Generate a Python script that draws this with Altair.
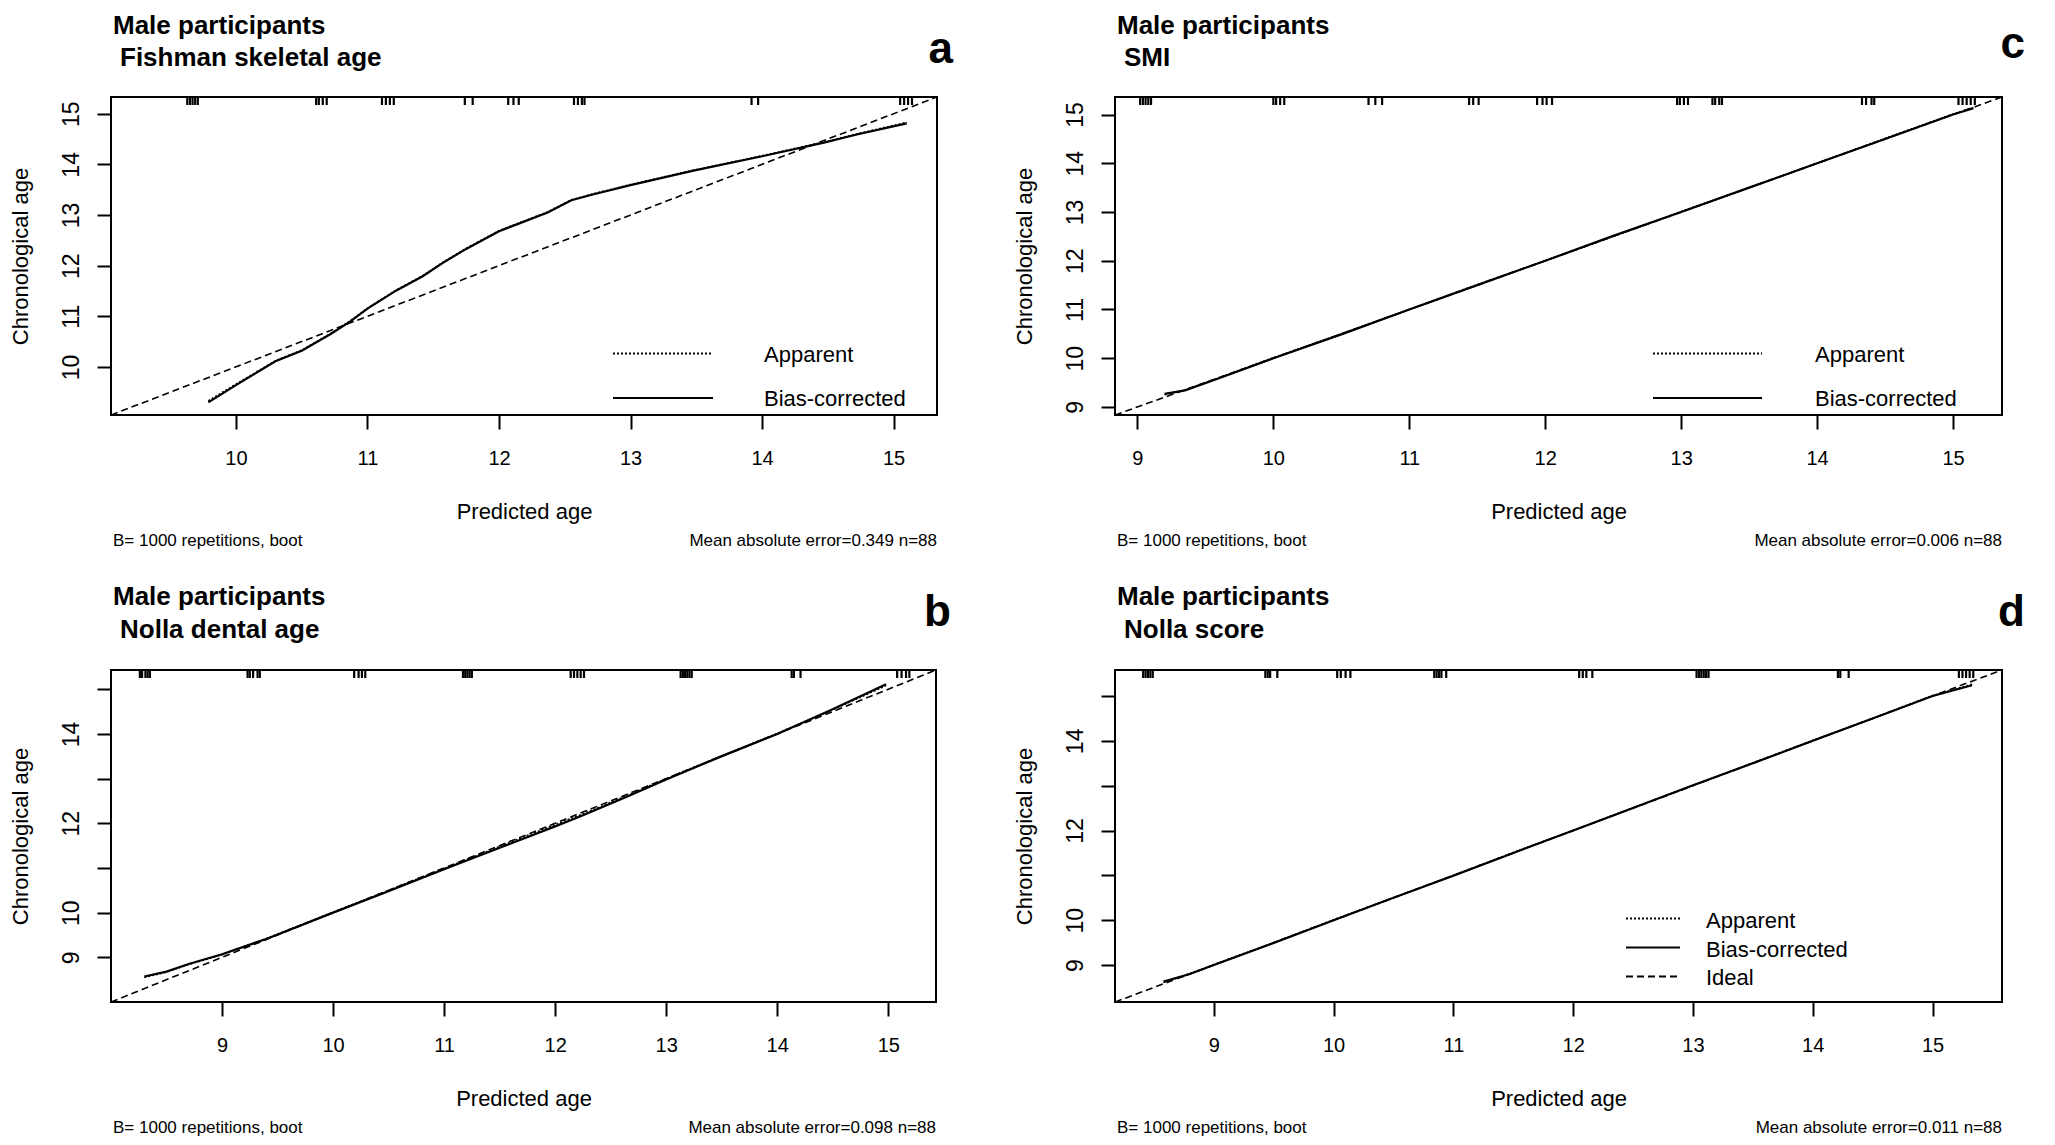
import altair as alt
import pandas as pd

FONT = "Liberation Sans"

# ---------------- panel a : Fishman skeletal age ----------------
a_x = [9.79, 10.0, 10.3, 10.5, 10.72, 10.87, 11.0, 11.22, 11.42, 11.57, 11.75,
       12.0, 12.12, 12.37, 12.55, 12.72, 13.0, 13.47, 14.0, 14.47, 14.72, 15.1]
a_bias = [9.30, 9.64, 10.11, 10.32, 10.65, 10.90, 11.15, 11.51, 11.79, 12.05, 12.33,
          12.68, 12.80, 13.05, 13.29, 13.41, 13.59, 13.87, 14.16, 14.43, 14.59, 14.81]
a_app = [9.33, 9.66, 10.12, 10.33, 10.66, 10.91, 11.16, 11.52, 11.80, 12.06, 12.34,
         12.69, 12.81, 13.06, 13.30, 13.42, 13.60, 13.88, 14.17, 14.44, 14.60, 14.83]
a_rug = [9.63, 9.65, 9.67, 9.69, 9.71, 10.61, 10.63, 10.66, 10.69, 11.11, 11.14, 11.17,
         11.20, 11.74, 11.80, 12.07, 12.11, 12.15, 12.57, 12.60, 12.63, 12.65, 13.92,
         13.97, 15.05, 15.08, 15.11, 15.14]
a_range = [9.05, 15.33]

# ---------------- panel b : Nolla dental age ----------------
b_x = [8.30, 8.50, 8.70, 9.0, 9.41, 10.0, 10.47, 11.0, 11.53, 12.0, 12.24, 12.65,
       13.0, 13.48, 14.0, 14.48, 14.98]
b_bias = [8.57, 8.68, 8.85, 9.07, 9.42, 10.0, 10.45, 10.97, 11.48, 11.93, 12.17, 12.60,
          12.98, 13.48, 14.0, 14.53, 15.11]
b_app = [8.55, 8.67, 8.84, 9.06, 9.43, 10.01, 10.47, 10.99, 11.51, 11.97, 12.20, 12.62,
         13.0, 13.49, 14.01, 14.52, 15.08]
b_rug = [8.26, 8.28, 8.31, 8.33, 8.35, 9.23, 9.25, 9.28, 9.32, 9.34, 10.19, 10.23,
         10.26, 10.29, 11.17, 11.19, 11.21, 11.23, 11.25, 12.14, 12.17, 12.20, 12.23,
         12.26, 13.13, 13.15, 13.17, 13.19, 13.21, 13.23, 14.13, 14.15, 14.21, 15.08,
         15.12, 15.16, 15.19]
b_range = [8.0, 15.43]

# ---------------- panel c : SMI ----------------
c_x = [9.20, 9.35, 9.6, 10.0, 10.5, 11.0, 11.5, 12.0, 12.5, 13.0, 13.5, 14.0, 14.5,
       15.0, 15.15]
c_bias = [9.27, 9.34, 9.59, 10.0, 10.49, 11.0, 11.5, 12.0, 12.51, 13.0, 13.5, 14.0,
          14.5, 15.0, 15.13]
c_app = [9.25, 9.35, 9.6, 10.01, 10.5, 11.0, 11.51, 12.0, 12.5, 13.01, 13.5, 14.0,
         14.51, 15.01, 15.14]
c_rug = [9.02, 9.04, 9.06, 9.08, 9.10, 10.0, 10.02, 10.05, 10.08, 10.70, 10.75, 10.80,
         11.44, 11.47, 11.51, 11.94, 11.98, 12.01, 12.05, 12.97, 12.99, 13.02, 13.05,
         13.23, 13.25, 13.28, 13.30, 14.33, 14.36, 14.40, 14.42, 15.04, 15.07, 15.10,
         15.13, 15.16]
c_range = [8.835, 15.36]

# ---------------- panel d : Nolla score ----------------
d_x = [8.58, 8.8, 9.0, 9.5, 10.0, 10.5, 11.0, 11.5, 12.0, 12.5, 13.0, 13.5, 14.0,
       14.5, 15.0, 15.33]
d_bias = [8.63, 8.8, 9.0, 9.49, 10.0, 10.5, 10.99, 11.5, 12.0, 12.5, 13.01, 13.5,
          14.0, 14.5, 15.0, 15.24]
d_app = [8.61, 8.81, 9.01, 9.5, 10.01, 10.5, 11.0, 11.51, 12.0, 12.51, 13.0, 13.51,
         14.01, 14.5, 15.01, 15.26]
d_rug = [8.41, 8.43, 8.45, 8.47, 8.49, 9.43, 9.45, 9.47, 9.53, 10.03, 10.06, 10.10,
         10.14, 10.84, 10.86, 10.88, 10.90, 10.94, 12.05, 12.08, 12.11, 12.16, 13.03,
         13.05, 13.07, 13.09, 13.11, 13.13, 14.21, 14.23, 14.30, 15.22, 15.25, 15.28,
         15.31, 15.34]
d_range = [8.175, 15.58]

DASH_APP = [2, 2]
DASH_IDEAL = [7, 4]


def txt(s, x, y, size, bold=False, align="left"):
    return alt.Chart(pd.DataFrame({"t": [s]})).mark_text(
        align=align, baseline="alphabetic", font=FONT, fontSize=size,
        fontWeight="bold" if bold else "normal", color="black"
    ).encode(x=alt.value(x), y=alt.value(y), text="t:N")


def legend_row(label, dash, x0, x1, ly, tx, ty):
    line = alt.Chart(pd.DataFrame({"t": [label]})).mark_rule(
        color="black", strokeWidth=2, strokeDash=dash
    ).encode(x=alt.value(x0), x2=alt.value(x1), y=alt.value(ly))
    return [line, txt(label, tx, ty, 22)]


def panel(name, letter, xs, bias, app, rug, rng, xticks, yticks, ylab, mae,
          W, H, t1, t2, let_x, let_y, legend):
    sc = alt.Scale(domain=rng, nice=False, zero=False)
    lab_expr = " || ".join("datum.value == %d" % v for v in ylab)
    X = alt.X("x:Q", scale=sc, axis=alt.Axis(
        values=xticks, title="Predicted age", grid=False, domain=False,
        tickSize=14, tickWidth=2, tickColor="black", labelFontSize=20,
        labelColor="black", labelPadding=19, labelFont=FONT, labelFlush=False,
        titleFont=FONT, titleFontSize=22, titleFontWeight="normal",
        titleColor="black", titleY=96, titleBaseline="middle"))
    Y = alt.Y("y:Q", scale=sc, axis=alt.Axis(
        values=yticks, title="Chronological age", grid=False, domain=False,
        tickSize=14, tickWidth=2, tickColor="black", labelFontSize=23,
        labelColor="black", labelAngle=270, labelAlign="center",
        labelBaseline="alphabetic", labelPadding=19, labelFont=FONT,
        labelFlush=False, labelOverlap=False,
        labelExpr="(%s) ? datum.label : ''" % lab_expr,
        titleFont=FONT, titleFontSize=22, titleFontWeight="normal",
        titleColor="black", titleAngle=270, titleX=-91, titleY=H / 2,
        titleAlign="center", titleBaseline="middle"))

    ideal = alt.Chart(pd.DataFrame({"x": rng, "y": rng})).mark_line(
        color="black", strokeWidth=1.6, strokeDash=DASH_IDEAL, clip=True
    ).encode(X, Y)
    apparent = alt.Chart(pd.DataFrame({"x": xs, "y": app})).mark_line(
        color="black", strokeWidth=1.6, strokeDash=DASH_APP, clip=True
    ).encode(X, Y)
    corrected = alt.Chart(pd.DataFrame({"x": xs, "y": bias})).mark_line(
        color="black", strokeWidth=2.2, clip=True
    ).encode(X, Y)
    rugs = alt.Chart(pd.DataFrame({"x": rug})).mark_rule(
        color="black", strokeWidth=2.2
    ).encode(X, y=alt.value(0), y2=alt.value(8))

    layers = [ideal, apparent, corrected, rugs,
              txt("Male participants", 2, t1, 26, bold=True),
              txt(name, 9, t2, 26, bold=True),
              txt(letter, let_x, let_y, 44, bold=True, align="right"),
              txt("B= 1000 repetitions, boot", 2, H + 131, 17),
              txt("Mean absolute error=%s n=88" % mae, W, H + 131, 17, align="right")]
    for row in legend:
        layers += legend_row(*row)
    return alt.layer(*layers).properties(width=W, height=H)


pa = panel("Fishman skeletal age", "a", a_x, a_bias, a_app, a_rug, a_range,
           [10, 11, 12, 13, 14, 15], [10, 11, 12, 13, 14, 15],
           [10, 11, 12, 13, 14, 15], "0.349", 826, 318, -63.5, -31.5, 842, -34.5,
           [("Apparent", DASH_APP, 502, 602, 256.5, 653, 265),
            ("Bias-corrected", [1, 0], 502, 602, 301, 653, 308.5)])
pc = panel("SMI", "c", c_x, c_bias, c_app, c_rug, c_range,
           [9, 10, 11, 12, 13, 14, 15], [9, 10, 11, 12, 13, 14, 15],
           [9, 10, 11, 12, 13, 14, 15], "0.006", 887, 318, -63.5, -31.5, 910, -39,
           [("Apparent", DASH_APP, 538, 647, 256.5, 700, 265),
            ("Bias-corrected", [1, 0], 538, 647, 301, 700, 308.5)])
pb = panel("Nolla dental age", "b", b_x, b_bias, b_app, b_rug, b_range,
           [9, 10, 11, 12, 13, 14, 15], [9, 10, 11, 12, 13, 14, 15],
           [9, 10, 12, 14], "0.098", 825, 332, -65, -32, 840, -44, [])
pd_ = panel("Nolla score", "d", d_x, d_bias, d_app, d_rug, d_range,
            [9, 10, 11, 12, 13, 14, 15], [9, 10, 11, 12, 13, 14, 15],
            [9, 10, 12, 14], "0.011", 887, 332, -65, -32, 910, -44,
            [("Apparent", DASH_APP, 511, 565, 248.5, 591, 257.5),
             ("Bias-corrected", [1, 0], 511, 565, 277.5, 591, 287),
             ("Ideal", DASH_IDEAL, 511, 565, 306.5, 591, 314.5)])

chart = alt.concat(
    pa, pc, pb, pd_, columns=2, bounds="flush",
    spacing={"row": 255, "column": 178}
).resolve_scale(
    x="independent", y="independent"
).properties(
    padding={"left": 0, "top": 3, "right": 5, "bottom": 5}, background="white"
).configure_view(stroke="black", strokeWidth=2)

chart.save("out.html", embed_options={"renderer": "svg", "actions": False})
